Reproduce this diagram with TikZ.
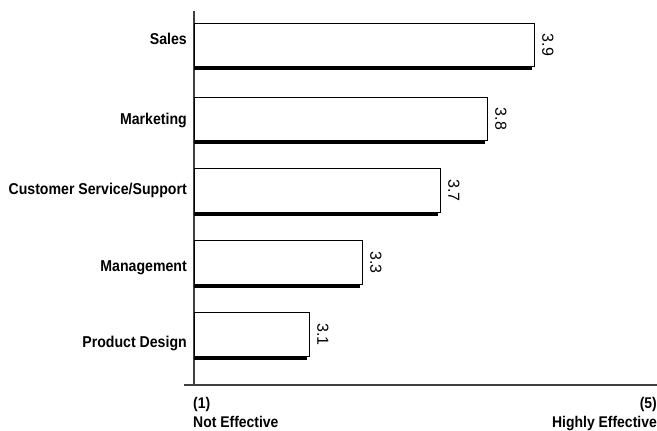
\documentclass[tikz,border=0pt]{standalone}
\usepackage{fontspec}
\setmainfont{Liberation Sans}
\newfontfamily\condb[FakeStretch=0.9]{Liberation Sans Bold}
\begin{document}
\begin{tikzpicture}[x=1pt,y=-1pt,
  axisline/.style={draw=black!75,line width=1.1pt},
  barbox/.style={draw=black,line width=1pt,fill=white},
  shadowline/.style={draw=black,line width=3pt},
  catlabel/.style={anchor=base east,inner sep=0pt,font=\condb\fontsize{15.7}{17}\selectfont},
  vallabel/.style={rotate=-90,inner sep=0pt,font=\fontsize{16}{18}\selectfont},
  endlabel/.style={inner sep=0pt,font=\condb\fontsize{15.5}{17}\selectfont}]
\useasboundingbox (0,0) rectangle (657,431);
% axes
\coordinate (ytop) at (194,11);
\coordinate (ybot) at (194,385);
\coordinate (xl) at (184,385);
\coordinate (xr) at (657,385);
\draw[axisline] (ytop) -- (ybot);
\draw[axisline] (xl) -- (xr);
% bars: name, top, bottom, right, value, label baseline, label
\foreach \n/\t/\b/\r/\v/\bl/\l in {sales/23/66/534/3.9/45/{Sales},
    mkt/97/140/487/3.8/124/{Marketing},
    cs/168/212/440/3.7/194/{Customer Service/Support},
    mgmt/240/284/362/3.3/271/{Management},
    pd/312/356/309/3.1/347/{Product Design}}{
  \draw[shadowline] (194,\b+2) -- (\r-2,\b+2);
  \node[barbox,minimum width=\r-194,minimum height=\b-\t,anchor=north west,inner sep=0pt] (bar-\n) at (194,\t) {};
  \node[vallabel] (val-\n) at ([xshift=13pt]bar-\n.east) {\v};
  \node[catlabel] (cat-\n) at (187,\bl) {\l};
}
\node[endlabel,anchor=base west] (one) at (193,408.5) {(1)};
\node[endlabel,anchor=base west] (notef) at (193,427.5) {Not Effective};
\node[endlabel,anchor=base east] (five) at (657,408.5) {(5)};
\node[endlabel,anchor=base east] (highef) at (657,427.5) {Highly Effective};
\end{tikzpicture}
\end{document}
